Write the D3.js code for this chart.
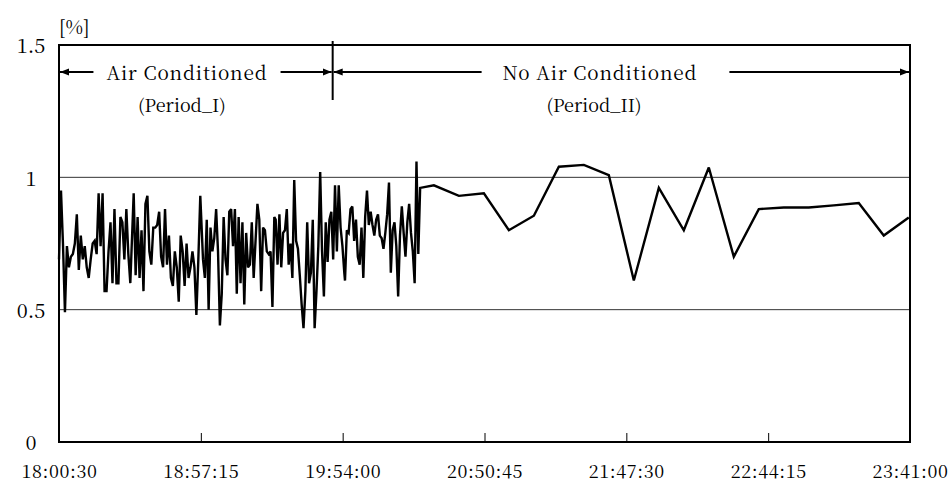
<!DOCTYPE html>
<html>
<head>
<meta charset="utf-8">
<script src="https://cdn.jsdelivr.net/npm/d3@7"></script>
<style>
  html, body { margin: 0; padding: 0; background: #fff; }
  svg { display: block; }
  svg text { font-family: "Noto Serif CJK JP", "IPAMincho", "Liberation Serif", "Times New Roman", "DejaVu Serif", "Noto Serif", serif !important; fill: #000; }
</style>
</head>
<body>
<script>
// ---------------- DATA ----------------
const xTickLabels = ["18:00:30", "18:57:15", "19:54:00", "20:50:45", "21:47:30", "22:44:15", "23:41:00"];
const yTickValues = [0, 0.5, 1, 1.5];
const yTickLabels = ["0", "0.5", "1", "1.5"];
const yGridValues = [0.5, 1];
const unitLabel = "[%]";

// Period I: dense logging, stored as recorded blocks (first time, last time, evenly spaced values)
const denseBlock1 = {start: "18:00:30", end: "18:29:02", values: [
  0.69,0.95,0.75,0.49,0.74,0.66,0.70,0.71,0.75,0.86,
  0.65,0.78,0.69,0.74,0.66,0.62,0.69,0.75,0.76,0.71,
  0.94,0.74,0.94,0.57,0.57,0.72,0.83,0.60,0.88,0.60,
  0.60,0.85,0.83,0.69,0.88,0.71,0.60]};
const denseBlock2 = {start: "18:30:23", end: "18:57:02", values: [
  0.94,0.63,0.85,0.62,0.80,0.57,0.90,0.93,0.72,0.67,
  0.81,0.81,0.82,0.87,0.70,0.66,0.88,0.67,0.78,0.62,
  0.59,0.72,0.66,0.53,0.78,0.72,0.59,0.75,0.62,0.66,
  0.72,0.66,0.48,0.69,0.93]};
const denseBlock3 = {start: "18:58:07", end: "19:26:39", values: [
  0.69,0.62,0.84,0.50,0.81,0.72,0.77,0.88,0.72,0.44,
  0.56,0.85,0.69,0.63,0.87,0.88,0.74,0.88,0.56,0.85,
  0.60,0.83,0.52,0.79,0.66,0.67,0.83,0.62,0.76,0.90,
  0.84,0.57,0.81,0.80,0.72,0.71,0.72,0.51,0.85]};
const denseBlock4 = {start: "19:27:12", end: "19:54:39", values: [
  0.84,0.67,0.86,0.66,0.79,0.80,0.88,0.67,0.75,0.62,
  0.99,0.76,0.73,0.63,0.52,0.43,0.57,0.83,0.60,0.64,
  0.84,0.43,0.57,0.74,1.02,0.72,0.55,0.83,0.68,0.84,
  0.87,0.69,0.97,0.72,0.97,0.81,0.74,0.64]};
const denseBlock5 = {start: "19:54:56", end: "20:24:16", values: [
  0.61,0.80,0.79,0.88,0.89,0.76,0.84,0.70,0.67,0.81,
  0.62,0.85,0.95,0.82,0.87,0.82,0.78,0.84,0.86,0.78,
  0.77,0.73,0.79,0.86,0.98,0.64,0.80,0.83,0.74,0.55,
  0.78,0.89,0.79,0.70,0.83,0.90,0.79,0.72,0.60,1.06,
  0.71]};

// Period II: sparse readings
const sparseTimes = ["20:25:00","20:30:30","20:40:30","20:50:30","21:00:30","21:10:30","21:20:30",
  "21:30:30","21:40:30","21:50:30","22:00:30","22:10:30","22:20:30","22:30:30","22:40:30",
  "22:50:30","23:00:30","23:10:30","23:20:30","23:30:30","23:40:30"];
const sparseValues = [0.96,0.97,0.93,0.94,0.80,0.855,1.04,1.047,1.008,0.61,0.96,0.80,1.037,
  0.70,0.88,0.886,0.886,0.894,0.903,0.78,0.848];

const boundaryTime = "19:50:00";
const periodLabels = [
  {line1: "Air Conditioned", line2: "(Period_I)"},
  {line1: "No Air Conditioned", line2: "(Period_II)"}
];

// ---------------- HELPERS ----------------
const toSec = s => { const [h,m,sec] = s.split(":").map(Number); return h*3600 + m*60 + sec; };

const W = 951, H = 488;
const margin = {left: 59, right: 41, top: 45, bottom: 46};
const innerW = W - margin.left - margin.right;
const innerH = H - margin.top - margin.bottom;
const FONT = "'Noto Serif CJK JP', 'IPAMincho', 'Liberation Serif', 'Times New Roman', 'DejaVu Serif', serif";

const xTickSecs = xTickLabels.map(toSec);
const x = d3.scaleLinear().domain([xTickSecs[0], xTickSecs[xTickSecs.length-1]]).range([margin.left, margin.left + innerW]);
const y = d3.scaleLinear().domain([0, 1.5]).range([margin.top + innerH, margin.top]);

const blockPoints = b => {
  const s = toSec(b.start), e = toSec(b.end), n = b.values.length;
  return b.values.map((v,i) => ({t: s + (e - s) * i / (n - 1), v}));
};
const series = [denseBlock1, denseBlock2, denseBlock3, denseBlock4, denseBlock5].flatMap(blockPoints)
  .concat(sparseValues.map((v,i) => ({t: toSec(sparseTimes[i]), v})));

const svg = d3.select("body").append("svg").attr("width", W).attr("height", H)
  .attr("font-family", FONT);

const defs = svg.append("defs");
defs.append("marker").attr("id","arr").attr("viewBox","0 0 10 10").attr("refX",10).attr("refY",5)
  .attr("markerWidth",4.5).attr("markerHeight",4.5).attr("markerUnits","strokeWidth").attr("orient","auto-start-reverse")
  .append("path").attr("d","M0,1 L10,5 L0,9 Z").attr("fill","#000");

// gridlines
svg.append("g").selectAll("line").data(yGridValues).join("line")
  .attr("x1", x.range()[0]).attr("x2", x.range()[1])
  .attr("y1", d => y(d)).attr("y2", d => y(d))
  .attr("stroke", "#333").attr("stroke-width", 1);

// bottom axis with inward ticks
const xAxis = d3.axisBottom(x).tickValues(xTickSecs).tickFormat((d,i) => xTickLabels[i])
  .tickSizeInner(-9).tickSizeOuter(0).tickPadding(27);
const gx = svg.append("g").attr("transform", `translate(0,${y(0)})`).call(xAxis)
  .attr("font-family", FONT);
gx.select(".domain").remove();
gx.selectAll(".tick line").attr("stroke","#000").attr("stroke-width",1);
gx.selectAll(".tick text").attr("font-size", 18).attr("letter-spacing", "0.6px")
  .attr("font-family", FONT).attr("dy","0.5em");

// y labels
svg.append("g").selectAll("text").data(yTickValues).join("text")
  .attr("x", 31).attr("y", d => y(d)).attr("dy", "0.42em")
  .attr("text-anchor", "middle").attr("font-size", 20)
  .text((d,i) => yTickLabels[i]);

svg.append("text").attr("x", 59).attr("y", 34).attr("font-size", 19).text(unitLabel);

// frame
svg.append("rect").attr("x", x.range()[0]).attr("y", y(1.5))
  .attr("width", x.range()[1]-x.range()[0]).attr("height", y(0)-y(1.5))
  .attr("fill","none").attr("stroke","#000").attr("stroke-width",2);

// data line
svg.append("path").datum(series)
  .attr("d", d3.line().x(d => x(d.t)).y(d => y(d.v)))
  .attr("fill","none").attr("stroke","#000").attr("stroke-width",2.4)
  .attr("stroke-linejoin","miter").attr("stroke-miterlimit",3);

// period annotation
const bx = x(toSec(boundaryTime));
const arrowY = 72;
svg.append("line").attr("x1", bx).attr("x2", bx).attr("y1", 41).attr("y2", 100)
  .attr("stroke","#000").attr("stroke-width",2);

const spans = [
  {from: x.range()[0], to: bx, cx: 187, cx2: 182, gapL: 13, gapR: 13},
  {from: bx, to: x.range()[1], cx: 600, cx2: 594, gapL: 21, gapR: 32}
];
spans.forEach((s, i) => {
  const t1 = svg.append("text").attr("x", s.cx).attr("y", arrowY).attr("dy","0.4em")
    .attr("text-anchor","middle").attr("font-size",19).attr("letter-spacing","0.85px")
    .text(periodLabels[i].line1);
  svg.append("text").attr("x", s.cx2).attr("y", arrowY + 34).attr("dy","0.35em")
    .attr("text-anchor","middle").attr("font-size",18)
    .text(periodLabels[i].line2);
  const bb = t1.node().getBBox();
  svg.append("line").attr("x1", bb.x - s.gapL).attr("x2", s.from + 1).attr("y1", arrowY).attr("y2", arrowY)
    .attr("stroke","#000").attr("stroke-width",2).attr("marker-end","url(#arr)");
  svg.append("line").attr("x1", bb.x + bb.width + s.gapR).attr("x2", s.to - 1).attr("y1", arrowY).attr("y2", arrowY)
    .attr("stroke","#000").attr("stroke-width",2).attr("marker-end","url(#arr)");
});
</script>
</body>
</html>
